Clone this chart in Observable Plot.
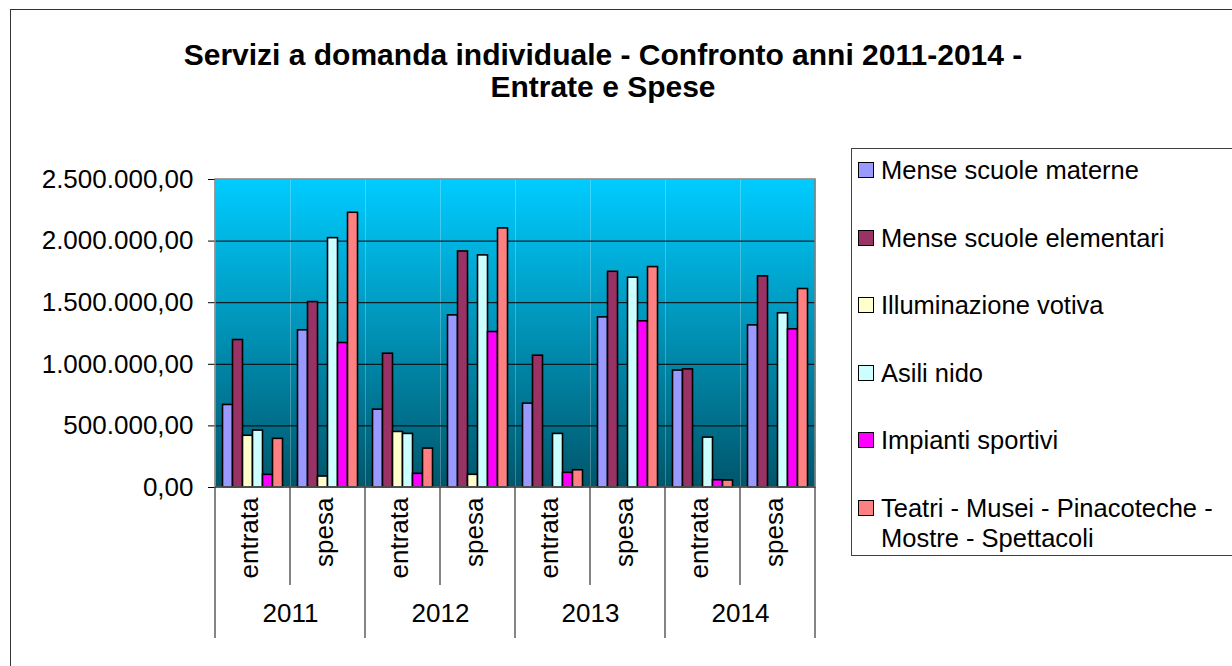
<!DOCTYPE html>
<html>
<head>
<meta charset="utf-8">
<script src="https://cdn.jsdelivr.net/npm/d3@7"></script>
<script src="https://cdn.jsdelivr.net/npm/@observablehq/plot@0.6"></script>
<style>
  html, body { margin: 0; padding: 0; background: #fff; }
  body { width: 1232px; height: 666px; overflow: hidden; position: relative; font-family: "Liberation Sans", Arial, sans-serif; }
  #outer { position: absolute; left: 10px; top: 9px; width: 1260px; height: 700px; border: 1.5px solid #333; box-sizing: border-box; }
  #title { position: absolute; left: 0; top: 39px; width: 1206px; text-align: center; font-weight: bold; font-size: 30px; line-height: 32px; color: #000; }
  #chart { position: absolute; left: 0; top: 140px; }
  #legend { position: absolute; left: 851px; top: 148px; width: 420px; height: 408px; border: 1.5px solid #404040; box-sizing: border-box; }
  .item { position: absolute; left: 6px; display: flex; align-items: flex-start; }
  .sw { width: 14px; height: 14px; border: 1.5px solid #000; margin-top: 7px; flex: none; }
  .lab { margin-left: 7px; font-size: 25.5px; line-height: 30px; width: 350px; color: #000; }
</style>
</head>
<body>
<div id="outer"></div>
<div id="title">Servizi a domanda individuale - Confronto anni 2011-2014 -<br>Entrate e Spese</div>
<div id="chart"></div>
<div id="legend"></div>
<script>
// ---- data ----
const years = ["2011", "2012", "2013", "2014"];
const kinds = ["entrata", "spesa"];
const series = [
  "Mense scuole materne",
  "Mense scuole elementari",
  "Illuminazione votiva",
  "Asili nido",
  "Impianti sportivi",
  "Teatri - Musei - Pinacoteche - Mostre - Spettacoli"
];
const colors = ["#9999FF", "#993366", "#FFFFCC", "#CCFFFF", "#FF00FF", "#FF8080"];
// values per category: 2011 entrata, 2011 spesa, 2012 entrata, 2012 spesa, ...
const menseMaterne     = [670000, 1276000, 632000, 1397000, 681000, 1381000, 949000, 1316000];
const menseElementari  = [1197000, 1505000, 1086000, 1916000, 1070000, 1751000, 959000, 1714000];
const illuminazione    = [420000, 89000, 451000, 103000, 0, 0, 0, 0];
const asiliNido        = [462000, 2024000, 435000, 1884000, 435000, 1703000, 405000, 1414000];
const impiantiSportivi = [103000, 1173000, 111000, 1262000, 119000, 1349000, 59000, 1284000];
const teatriMusei      = [395000, 2230000, 316000, 2103000, 140000, 1789000, 57000, 1611000];
const yTicks = [0, 500000, 1000000, 1500000, 2000000, 2500000];

const seriesValues = [menseMaterne, menseElementari, illuminazione, asiliNido, impiantiSportivi, teatriMusei];
const cats = years.flatMap(y => kinds.map(k => y + " " + k));
const rows = [];
series.forEach((s, j) => seriesValues[j].forEach((v, i) => {
  if (v > 0) rows.push({cat: cats[i], series: s, value: v});
}));
const labelRows = cats.map((c, i) => ({cat: c, kind: kinds[i % 2], year: years[Math.floor(i / 2)]}));

const it = d3.formatLocale({decimal: ",", thousands: ".", grouping: [3], currency: ["€", ""]});
const fmt = it.format(",.2f");

const W = 840, H = 520, ML = 215, MR = 25, MT = 39, MB = 173;
const band = (W - ML - MR) / cats.length;

const plot = Plot.plot({
  width: W, height: H,
  marginLeft: ML, marginRight: MR, marginTop: MT, marginBottom: MB,
  style: {fontFamily: "'Liberation Sans', Arial, sans-serif", fontSize: "26px", color: "#000", background: "transparent", overflow: "visible"},
  fx: {domain: cats, padding: 0, axis: null},
  x: {domain: series, paddingInner: 0, paddingOuter: 0.75, axis: null, round: false},
  y: {domain: [0, 2500000], ticks: yTicks, tickFormat: fmt, tickSize: 7, tickPadding: 15, label: null},
  color: {domain: series, range: colors},
  marks: [
    Plot.frame({fill: "url(#bg)", stroke: "none"}),
    Plot.ruleY(yTicks.filter(d => d > 0 && d < 2500000), {stroke: "#000", strokeWidth: 1}),
    Plot.barY(rows, {fx: "cat", x: "series", y: "value", fill: "series", stroke: "#000", strokeWidth: 1.6, inset: 0}),
    Plot.text(labelRows, {fx: "cat", text: "kind", frameAnchor: "bottom", rotate: -90, textAnchor: "end", dy: 10, dx: 5, fill: "#000"}),
    Plot.text(labelRows.filter(d => d.kind === "entrata"), {fx: "cat", text: "year", frameAnchor: "bottom", dy: 134, dx: band / 2, fill: "#000"})
  ]
});

document.getElementById("chart").appendChild(plot);

// gradient background + frame / category separators using Plot's scales
const svg = d3.select(plot.tagName.toLowerCase() === "svg" ? plot : plot.querySelector("svg"));
const defs = svg.insert("defs", ":first-child");
const g = defs.append("linearGradient").attr("id", "bg").attr("x1", 0).attr("y1", 0).attr("x2", 0).attr("y2", 1);
g.append("stop").attr("offset", "0%").attr("stop-color", "#00CCFF");
g.append("stop").attr("offset", "100%").attr("stop-color", "#00566B");

const fxS = plot.scale("fx"), yS = plot.scale("y");
const fxA = fxS.apply ? fxS.apply : d3.scaleBand(fxS.domain, fxS.range);
const yA = yS.apply ? yS.apply : d3.scaleLinear(yS.domain, yS.range);
const x0 = fxS.range[0], x1 = fxS.range[1];
const yTop = yA(2500000), yBot = yA(0);
const over = svg.append("g");
over.append("rect").attr("x", x0).attr("y", yTop).attr("width", x1 - x0).attr("height", yBot - yTop)
  .attr("fill", "none").attr("stroke", "#7f7f7f").attr("stroke-width", 1.5);
over.append("line").attr("x1", x0).attr("x2", x1).attr("y1", yBot).attr("y2", yBot).attr("stroke", "#333").attr("stroke-width", 1.2);
labelRows.forEach(d => {
  const x = fxA(d.cat);
  const len = d.kind === "entrata" ? 151 : 98;
  over.append("line").attr("x1", x).attr("x2", x).attr("y1", yBot).attr("y2", yBot + len).attr("stroke", "#333").attr("stroke-width", 1.2);
});
over.append("line").attr("x1", x1).attr("x2", x1).attr("y1", yBot).attr("y2", yBot + 151).attr("stroke", "#333").attr("stroke-width", 1.2);

// legend
const leg = d3.select("#legend");
series.forEach((s, i) => {
  const item = leg.append("div").attr("class", "item").style("top", (6 + i * 67.6) + "px");
  item.append("div").attr("class", "sw").style("background", colors[i]);
  item.append("div").attr("class", "lab").text(s);
});
</script>
</body>
</html>
